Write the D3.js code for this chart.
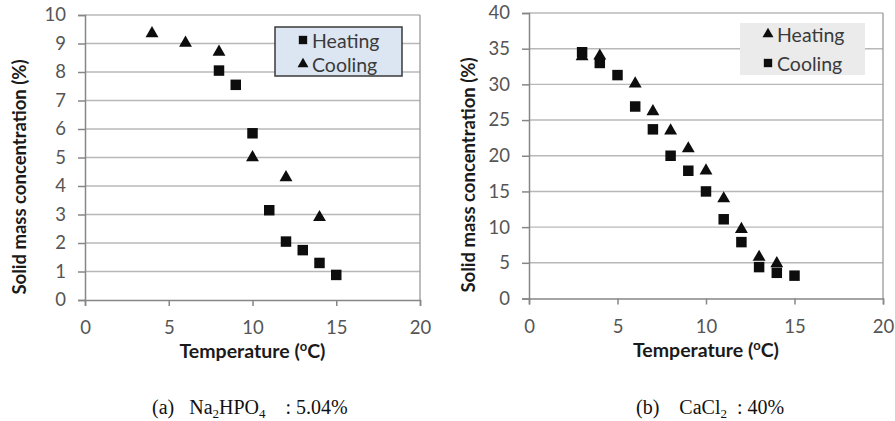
<!DOCTYPE html>
<html>
<head>
<meta charset="utf-8">
<script src="https://cdn.jsdelivr.net/npm/d3@7"></script>
<style>
  html, body { margin: 0; padding: 0; background: #fff; }
  svg { display: block; }
  .tick text { font-family: Lato, "Open Sans", sans-serif; }
</style>
</head>
<body>
<svg id="fig" width="895" height="421"></svg>
<script>
// Panel (a): Na2HPO4 5.04 %
const naHeatT = [8, 9, 10, 11, 12, 13, 14, 15];
const naHeatC = [8.05, 7.55, 5.85, 3.15, 2.05, 1.75, 1.3, 0.88];
const naCoolT = [4, 6, 8, 10, 12, 14];
const naCoolC = [9.35, 9.02, 8.7, 5.0, 4.3, 2.9];

// Panel (b): CaCl2 40 %
const caHeatT = [3, 4, 6, 7, 8, 9, 10, 11, 12, 13, 14];
const caHeatC = [33.9, 34.0, 30.1, 26.2, 23.5, 21.0, 17.9, 14.0, 9.7, 5.8, 4.9];
const caCoolT = [3, 4, 5, 6, 7, 8, 9, 10, 11, 12, 13, 14, 15];
const caCoolC = [34.5, 33.0, 31.3, 26.9, 23.7, 20.0, 17.9, 15.0, 11.1, 7.9, 4.4, 3.6, 3.2];

const xTicks = [0, 5, 10, 15, 20];
const naYTicks = [0, 1, 2, 3, 4, 5, 6, 7, 8, 9, 10];
const caYTicks = [0, 5, 10, 15, 20, 25, 30, 35, 40];

const svg = d3.select("#fig");
const sans = "Lato, 'Open Sans', sans-serif";
const serif = "'Liberation Serif', 'Times New Roman', serif";

const squareSym = d3.symbol().type(d3.symbolSquare).size(110);
const triSym = d3.symbol().type(d3.symbolTriangle).size(72);

function panel(cfg) {
  const x = d3.scaleLinear().domain([0, 20]).range([cfg.x0, cfg.x1]);
  const y = d3.scaleLinear().domain([0, cfg.yMax]).range([cfg.y0, cfg.y1]);
  const g = svg.append("g");

  // horizontal gridlines
  g.append("g").selectAll("line").data(cfg.yTicks.filter(v => v > 0)).join("line")
    .attr("x1", cfg.x0).attr("x2", cfg.x1)
    .attr("y1", d => y(d)).attr("y2", d => y(d))
    .attr("stroke", "#b8b8b8").attr("stroke-width", 1.4);
  // right border
  g.append("line").attr("x1", cfg.x1).attr("x2", cfg.x1)
    .attr("y1", cfg.y1).attr("y2", cfg.y0)
    .attr("stroke", "#9a9a9a").attr("stroke-width", 1.3);

  const yAxis = d3.axisLeft(y).tickValues(cfg.yTicks).tickSize(7).tickPadding(12).tickFormat(d3.format("d"));
  const xAxis = d3.axisBottom(x).tickValues(xTicks).tickSize(6).tickPadding(15).tickFormat(d3.format("d"));

  const ya = g.append("g").attr("transform", `translate(${cfg.x0},0)`).call(yAxis);
  const xa = g.append("g").attr("transform", `translate(0,${cfg.y0})`).call(xAxis);
  [ya, xa].forEach(a => {
    a.select(".domain").attr("stroke", "#868686").attr("stroke-width", 1.5);
    a.selectAll(".tick line").attr("stroke", "#868686").attr("stroke-width", 1.5);
    a.selectAll(".tick text").attr("fill", "#555555").attr("font-size", 18.5);
  });

  // axis titles
  const xt = g.append("text")
    .attr("x", (cfg.x0 + cfg.x1) / 2).attr("y", cfg.y0 + 58)
    .attr("text-anchor", "middle").attr("font-family", sans)
    .attr("font-weight", "bold").attr("font-size", 19.5).attr("fill", "#1a1a1a");
  xt.append("tspan").text("Temperature (");
  xt.append("tspan").attr("font-size", 13).attr("dy", -7).text("o");
  xt.append("tspan").attr("dy", 7).text("C)");

  g.append("text")
    .attr("transform", `translate(${cfg.yTitleX},${cfg.yTitleY}) rotate(-90)`)
    .attr("text-anchor", "middle").attr("dominant-baseline", "middle")
    .attr("font-family", sans).attr("font-weight", "bold")
    .attr("font-size", 18.5).attr("fill", "#1a1a1a")
    .text("Solid mass concentration (%)");

  // markers
  cfg.series.forEach(s => {
    g.append("g").selectAll("path").data(s.t.map((t, i) => [t, s.c[i]])).join("path")
      .attr("d", s.sym === "sq" ? squareSym : triSym)
      .attr("transform", d => `translate(${x(d[0])},${y(d[1])})`)
      .attr("fill", "#0d0d0d");
  });

  // legend
  const lg = g.append("g").attr("transform", `translate(${cfg.leg.x},${cfg.leg.y})`);
  lg.append("rect").attr("width", cfg.leg.w).attr("height", cfg.leg.h)
    .attr("fill", cfg.leg.fill).attr("stroke", cfg.leg.stroke || "none").attr("stroke-width", 1.5);
  cfg.leg.items.forEach((it, i) => {
    const cy = cfg.leg.rowY[i];
    lg.append("path")
      .attr("d", it.sym === "sq" ? d3.symbol().type(d3.symbolSquare).size(70)() : d3.symbol().type(d3.symbolTriangle).size(52)())
      .attr("transform", `translate(${cfg.leg.symX},${cy})`).attr("fill", "#0d0d0d");
    lg.append("text").attr("x", cfg.leg.textX).attr("y", cy)
      .attr("dominant-baseline", "central").attr("font-family", sans)
      .attr("font-size", 19.5).attr("fill", "#3a3a3a").text(it.label);
  });

  // caption
  const cap = svg.append("text").attr("x", cfg.capX).attr("y", 414)
    .attr("font-family", serif).attr("font-size", 20).attr("fill", "#111")
    .attr("xml:space", "preserve");
  cfg.caption.forEach(p => {
    const ts = cap.append("tspan").text(p.t);
    if (p.sub) ts.attr("font-size", 13).attr("dy", 4);
    if (p.back) ts.attr("dy", -4);
  });
}

panel({
  x0: 85, x1: 420, y0: 300, y1: 15, yMax: 10, yTicks: naYTicks,
  yTitleX: 21, yTitleY: 177,
  series: [
    { t: naHeatT, c: naHeatC, sym: "sq" },
    { t: naCoolT, c: naCoolC, sym: "tri" }
  ],
  leg: { x: 275, y: 27, w: 127, h: 49, fill: "#dce6f2", stroke: "#3a3a3a",
         symX: 28, textX: 37, rowY: [13, 37],
         items: [{ sym: "sq", label: "Heating" }, { sym: "tri", label: "Cooling" }] },
  capX: 152,
  caption: [
    { t: "(a)   Na" }, { t: "2", sub: true }, { t: "HPO", back: true },
    { t: "4", sub: true }, { t: "    : 5.04%", back: true }
  ]
});

panel({
  x0: 529, x1: 883, y0: 298.5, y1: 13, yMax: 40, yTicks: caYTicks,
  yTitleX: 470, yTitleY: 175,
  series: [
    { t: caCoolT, c: caCoolC, sym: "sq" },
    { t: caHeatT, c: caHeatC, sym: "tri" }
  ],
  leg: { x: 740, y: 23, w: 125, h: 52, fill: "#ebebeb",
         symX: 28, textX: 37, rowY: [11, 40],
         items: [{ sym: "tri", label: "Heating" }, { sym: "sq", label: "Cooling" }] },
  capX: 636,
  caption: [
    { t: "(b)    CaCl" }, { t: "2", sub: true }, { t: "  : 40%", back: true }
  ]
});
</script>
</body>
</html>
